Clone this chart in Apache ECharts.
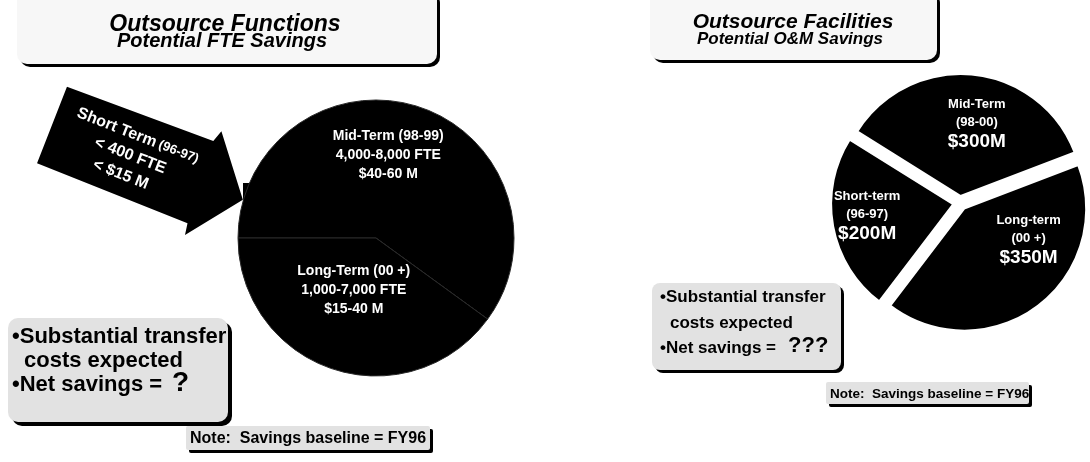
<!DOCTYPE html>
<html>
<head>
<meta charset="utf-8">
<script src="https://cdn.jsdelivr.net/npm/echarts@6/dist/echarts.min.js"></script>
<style>
  html, body { margin: 0; padding: 0; background: #fff; }
  #chart { width: 1090px; height: 462px; }
</style>
</head>
<body>
<div id="chart"></div>
<script>
// left: outsourced functions, FTE savings
const leftNames = ["Mid-Term (98-99)", "Long-Term (00 +)"];
const leftFteRange = ["4,000-8,000 FTE", "1,000-7,000 FTE"];
const leftDollarRange = ["$40-60 M", "$15-40 M"];
const leftFteMid = [6000, 4000]; // midpoints of the FTE ranges
const shortTermLines = ["Short Term", "(96-97)", "< 400 FTE", "< $15 M"];

// right: outsourced facilities, O&M savings ($M)
const rightNames = ["Mid-Term", "Long-term", "Short-term"];
const rightPeriods = ["(98-00)", "(00 +)", "(96-97)"];
const rightSavings = [300, 350, 200];

const FONT = '"Liberation Sans", Arial, sans-serif';

// label nudges (padding) so text sits where the slide has it
const leftPad = [[0, 20, 28, 0], [0, 0, 32, 0]];
const rightPad = [[0, 0, 18, 20], [0, 0, 40, 52], [0, 46, 0, 0]];

let chart = echarts.init(document.getElementById("chart"));

// a box with a black drop edge on the right / bottom
function box(x, y, w, h, r, fill, d) {
  return [
    { type: "rect", shape: { x: x + d, y: y + d, width: w, height: h, r: r }, style: { fill: "#000" }, z: 1 },
    { type: "rect", shape: { x: x, y: y, width: w, height: h, r: r }, style: { fill: fill }, z: 1 }
  ];
}
function txt(x, y, text, font, align) {
  return {
    type: "text", z: 5,
    style: { x: x, y: y, text: text, font: font, fill: "#000", textAlign: align || "center", textVerticalAlign: "middle" }
  };
}

let graphics = [].concat(
  box(17, -10, 420, 74, 10, "#f7f7f7", 3),
  box(650, -10, 287, 70, 10, "#f7f7f7", 3),
  box(8, 318, 220, 104, 10, "#e2e2e2", 4),
  box(652, 283, 189, 87, 8, "#e2e2e2", 3),
  box(186, 426, 244, 24, 2, "#e2e2e2", 3),
  box(826, 382, 203, 22, 2, "#e2e2e2", 3),
  [
    txt(225, 25, "Outsource Functions", "italic bold 23px " + FONT),
    txt(222, 41, "Potential FTE Savings", "italic bold 20px " + FONT),
    txt(793, 22, "Outsource Facilities", "italic bold 21px " + FONT),
    txt(790, 39, "Potential O&M Savings", "italic bold 17px " + FONT),
    txt(12, 337, "\u2022Substantial transfer", "bold 22px " + FONT, "left"),
    txt(24, 361, "costs expected", "bold 22px " + FONT, "left"),
    txt(12, 385, "\u2022Net savings = ", "bold 22px " + FONT, "left"),
    txt(172, 383, "?", "bold 28px " + FONT, "left"),
    txt(660, 297, "\u2022Substantial transfer", "bold 17px " + FONT, "left"),
    txt(670, 323, "costs expected", "bold 17px " + FONT, "left"),
    txt(660, 348, "\u2022Net savings = ", "bold 17px " + FONT, "left"),
    txt(788, 346, "???", "bold 22px " + FONT, "left"),
    txt(190, 439, "Note:  Savings baseline = FY96", "bold 16px " + FONT, "left"),
    txt(830, 394, "Note:  Savings baseline = FY96", "bold 13.5px " + FONT, "left"),
    // tab where the arrow meets the circle
    { type: "rect", shape: { x: 243, y: 183, width: 20, height: 45 }, style: { fill: "#000" }, z: 0 },
    // short-term arrow
    {
      type: "group", x: 52, y: 125, rotation: -21.4 * Math.PI / 180, z: 3,
      children: [
        {
          type: "polygon",
          shape: { points: [[0, -41], [156, -44], [160, -56], [205, 0], [164, 54], [162, 42], [0, 41]] },
          style: { fill: "#000" }
        },
        {
          type: "text", z: 4,
          style: {
            x: 84, y: -21, textAlign: "center", textVerticalAlign: "middle", fill: "#fff",
            text: "{a|" + shortTermLines[0] + "} {b|" + shortTermLines[1] + "}",
            rich: {
              a: { font: "bold 16px " + FONT, fill: "#fff" },
              b: { font: "bold 13px " + FONT, fill: "#fff" }
            }
          }
        },
        { type: "text", z: 4, style: { x: 84, y: 0, text: shortTermLines[2], font: "bold 16px " + FONT, fill: "#fff", textAlign: "center", textVerticalAlign: "middle" } },
        { type: "text", z: 4, style: { x: 82, y: 21, text: shortTermLines[3], font: "bold 16px " + FONT, fill: "#fff", textAlign: "center", textVerticalAlign: "middle" } }
      ]
    }
  ]
);

chart.setOption({
  animation: false,
  backgroundColor: "#fff",
  graphic: graphics,
  series: [
    {
      type: "pie",
      silent: true,
      center: [376, 238],
      radius: 138,
      startAngle: 180,
      clockwise: true,
      itemStyle: { color: "#000", borderColor: "#2a2a2a", borderWidth: 1 },
      label: {
        position: "inside",
        color: "#fff",
        fontFamily: FONT,
        fontWeight: "bold",
        formatter: p => "{a|" + p.name + "}\n{a|" + leftFteRange[p.dataIndex] + "}\n{a|" + leftDollarRange[p.dataIndex] + "}",
        rich: {
          a: { fontSize: 14, lineHeight: 19, color: "#fff", fontFamily: FONT, fontWeight: "bold" }
        }
      },
      labelLine: { show: false },
      data: leftNames.map((n, i) => ({
        name: n,
        value: leftFteMid[i],
        label: { padding: leftPad[i] }
      }))
    },
    {
      type: "pie",
      silent: true,
      center: [960, 203],
      radius: 122,
      startAngle: 148,
      clockwise: true,
      selectedMode: "multiple",
      selectedOffset: 7,
      itemStyle: { color: "#000", borderColor: "#fff", borderWidth: 2 },
      label: {
        position: "inside",
        color: "#fff",
        fontFamily: FONT,
        fontWeight: "bold",
        formatter: p => "{a|" + p.name + "}\n{a|" + rightPeriods[p.dataIndex] + "}\n{b|$" + p.value + "M}",
        rich: {
          a: { fontSize: 13, lineHeight: 18, color: "#fff", fontFamily: FONT, fontWeight: "bold" },
          b: { fontSize: 19, lineHeight: 20, color: "#fff", fontFamily: FONT, fontWeight: "bold" }
        }
      },
      labelLine: { show: false },
      data: rightNames.map((n, i) => ({
        name: n,
        value: rightSavings[i],
        selected: true,
        label: { padding: rightPad[i] }
      }))
    }
  ]
});
window.addEventListener("resize", function() {
  chart.resize();
});
</script>
</body>
</html>
